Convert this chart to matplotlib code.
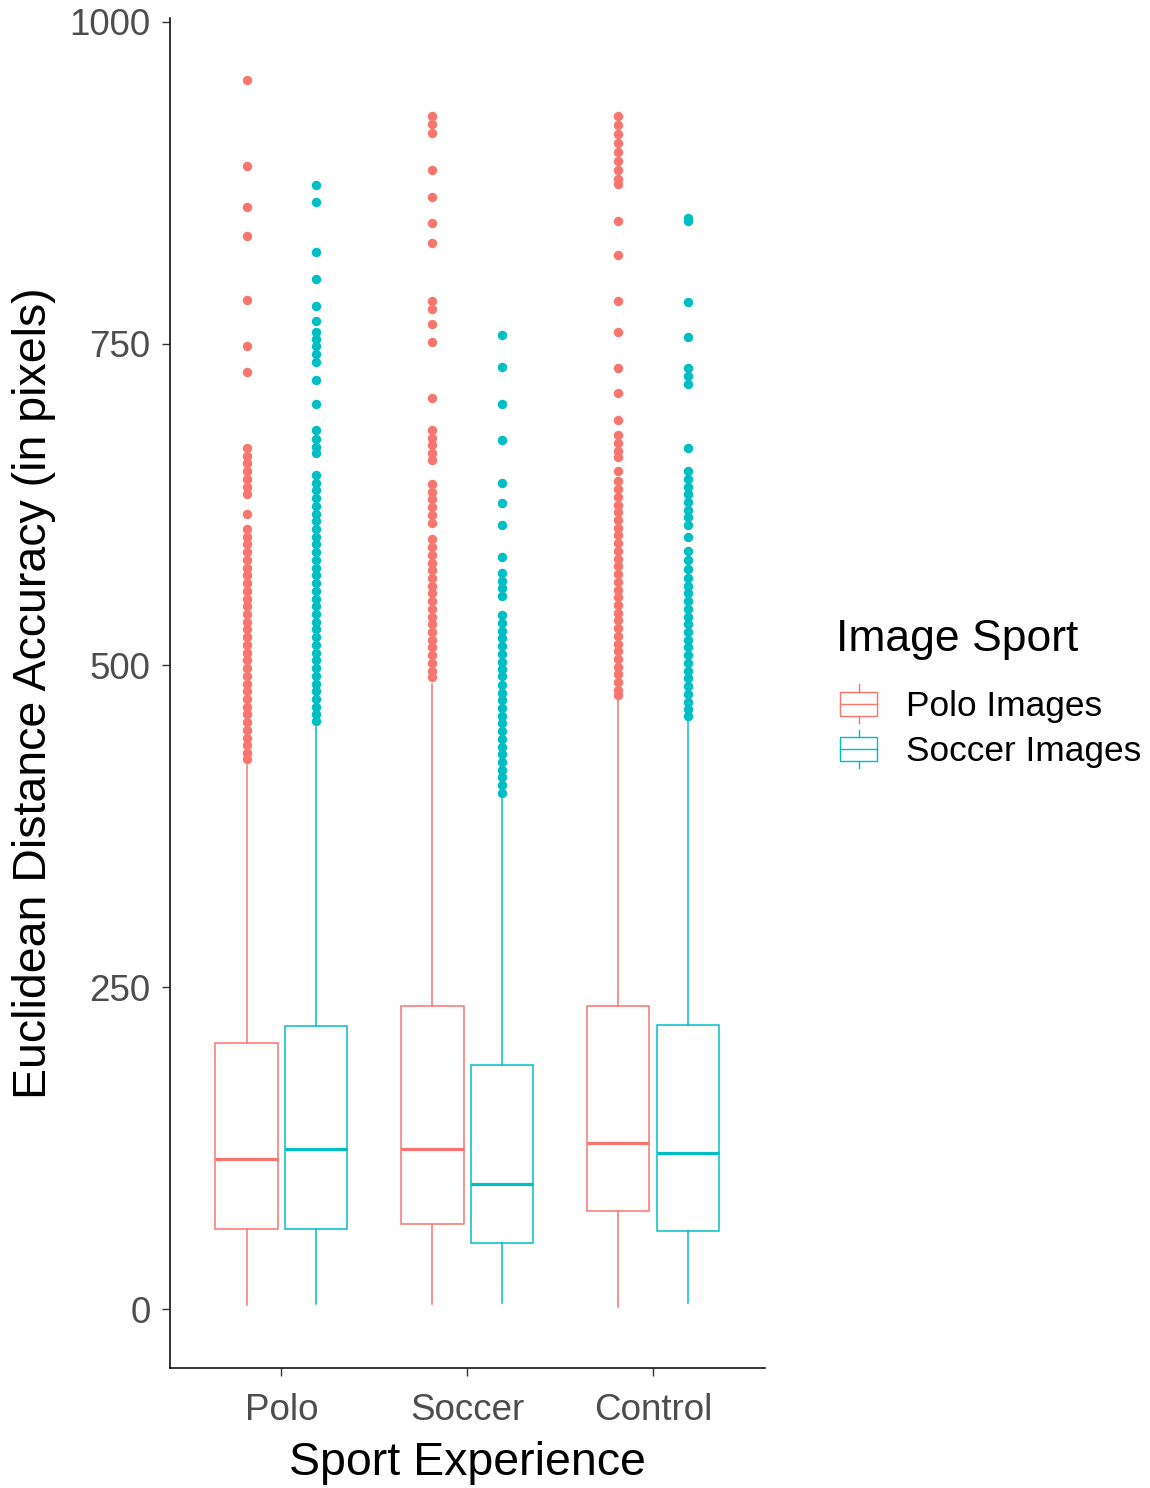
import matplotlib
matplotlib.use("Agg")
import matplotlib.pyplot as plt
from matplotlib.legend_handler import HandlerBase
from matplotlib.patches import Rectangle
from matplotlib.lines import Line2D

plt.rcParams['font.family'] = ['Liberation Sans', 'DejaVu Sans']

# categories
groups = ["Polo", "Soccer", "Control"]
image_sports = ["Polo Images", "Soccer Images"]
colors = ["#F8766D", "#00BFC4"]

# box statistics per image sport, one value per experience group
whislo = {"Polo Images": [3, 4, 2], "Soccer Images": [4, 4.5, 4.5]}
q1 = {"Polo Images": [62, 66, 76], "Soccer Images": [62, 51.5, 61]}
med = {"Polo Images": [116.5, 124.5, 129], "Soccer Images": [124.5, 97.5, 121.5]}
q3 = {"Polo Images": [207, 235.5, 235.5], "Soccer Images": [220, 190, 221]}
whishi = {"Polo Images": [423, 486, 474], "Soccer Images": [452, 396, 458]}

# outliers
fliers_polo_polo = [955, 888, 856, 834, 784, 748, 728, 669, 663, 657, 651, 645, 639,
                    633, 618, 606, 600, 594, 588, 582, 576, 570, 564, 558, 552, 546,
                    540, 534, 528, 522, 516, 510, 504, 498, 492, 486, 480, 474, 468,
                    462, 456, 450, 444, 438, 432, 427]
fliers_polo_soccer = [873, 860, 821, 800, 779, 768, 759, 754, 748, 742, 736, 722, 703,
                      683, 676, 670, 665, 648, 642, 636, 630, 624, 618, 612, 606, 600,
                      594, 588, 582, 576, 570, 564, 558, 552, 546, 540, 534, 528, 522,
                      516, 510, 504, 498, 492, 486, 480, 474, 468, 462, 457]
fliers_soccer_polo = [927, 921, 914, 885, 864, 844, 828, 783, 777, 765, 751, 708, 683,
                      677, 671, 665, 660, 641, 635, 629, 623, 617, 611, 598, 592, 586,
                      580, 574, 568, 562, 556, 550, 544, 538, 532, 526, 520, 514, 508,
                      502, 496, 491]
fliers_soccer_soccer = [757, 732, 703, 675, 642, 626, 609, 584, 572, 566, 560, 554, 539,
                        533, 527, 521, 515, 509, 503, 497, 492, 485, 479, 473, 467, 461,
                        455, 449, 443, 437, 431, 425, 419, 413, 407, 401]
fliers_control_polo = [927, 920, 913, 906, 899, 892, 885, 878, 874, 845, 819, 783, 759,
                       731, 712, 691, 679, 673, 667, 662, 651, 643, 637, 631, 625, 619,
                       613, 607, 601, 595, 589, 583, 577, 571, 565, 559, 553, 547, 541,
                       535, 529, 523, 517, 511, 505, 499, 493, 487, 481, 477]
fliers_control_soccer = [848, 845, 782, 755, 731, 725, 719, 669, 651, 645, 639, 633, 627,
                         621, 615, 609, 600, 589, 582, 575, 568, 562, 556, 550, 544, 538,
                         532, 526, 520, 514, 508, 502, 496, 490, 484, 478, 472, 466, 461]
fliers = {"Polo Images": [fliers_polo_polo, fliers_soccer_polo, fliers_control_polo],
          "Soccer Images": [fliers_polo_soccer, fliers_soccer_soccer, fliers_control_soccer]}


class HandlerBoxKey(HandlerBase):
    # little boxplot glyph like ggplot's legend key
    def create_artists(self, legend, orig_handle, xdescent, ydescent, width, height,
                       fontsize, trans):
        c = orig_handle.get_color()
        x0, y0 = -xdescent, -ydescent
        box = Rectangle((x0, y0), width, height, facecolor="white", edgecolor=c, lw=1.0,
                        transform=trans)
        mid = Line2D([x0, x0 + width], [y0 + height / 2] * 2, color=c, lw=1.0,
                     transform=trans)
        top = Line2D([x0 + width / 2] * 2, [y0 + height, y0 + 1.3 * height], color=c,
                     lw=1.0, transform=trans)
        bot = Line2D([x0 + width / 2] * 2, [y0, y0 - 0.3 * height], color=c, lw=1.0,
                     transform=trans)
        return [box, mid, top, bot]


fig = plt.figure(figsize=(11.5, 14.88), dpi=100)
ax = fig.add_axes([0.1478, 0.0806, 0.517, 0.9073])

offsets = [-0.1875, 0.1875]
for sport, col, off in zip(image_sports, colors, offsets):
    stats = []
    for i in range(len(groups)):
        stats.append({"whislo": whislo[sport][i], "q1": q1[sport][i], "med": med[sport][i],
                      "q3": q3[sport][i], "whishi": whishi[sport][i],
                      "fliers": fliers[sport][i]})
    pos = [i + 1 + off for i in range(len(groups))]
    ax.bxp(stats, positions=pos, widths=0.335, showcaps=False, patch_artist=True,
           boxprops=dict(facecolor="white", edgecolor=col, linewidth=1.1),
           whiskerprops=dict(color=col, linewidth=1.1),
           medianprops=dict(color=col, linewidth=2.3, solid_capstyle="butt"),
           flierprops=dict(marker="o", markerfacecolor=col, markeredgecolor="none",
                           markersize=6.8))

ax.set_xlim(0.4, 3.6)
ax.set_ylim(-45.8, 1003)
ax.set_xticks([1, 2, 3])
ax.set_xticklabels(groups)
ax.set_yticks([0, 250, 500, 750, 1000])
ax.tick_params(axis="both", labelsize=26.5, labelcolor="#4D4D4D", color="#333333",
               length=6, width=1.0, pad=8)
ax.tick_params(axis="x", pad=12)
for s in ["top", "right"]:
    ax.spines[s].set_visible(False)
for s in ["left", "bottom"]:
    ax.spines[s].set_linewidth(1.1)

ax.set_xlabel("Sport Experience", fontsize=33.5, labelpad=9)
ax.set_ylabel("Euclidean Distance Accuracy (in pixels)", fontsize=33.5, labelpad=10)

# legend: title as its own text, entries below it
fig.text(0.727, 0.5699, "Image Sport", fontsize=32, ha="left", va="center")
handles = [Line2D([], [], color=c) for c in colors]
leg = fig.legend(handles, image_sports, handler_map={Line2D: HandlerBoxKey()},
                 loc="upper left", bbox_to_anchor=(0.7305, 0.5363), frameon=False,
                 fontsize=25.4, handlelength=1.05, handleheight=0.68,
                 handletextpad=0.82, labelspacing=0.35, borderpad=0,
                 borderaxespad=0)

plt.savefig("out.png", dpi=100)
